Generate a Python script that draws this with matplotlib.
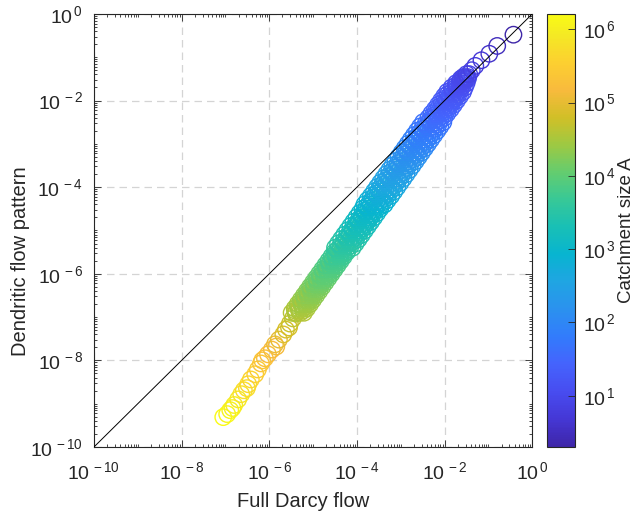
import numpy as np
import matplotlib
matplotlib.use("Agg")
import matplotlib.pyplot as plt
from matplotlib.colors import LinearSegmentedColormap, LogNorm
from matplotlib.cm import ScalarMappable
from matplotlib.ticker import FixedLocator, LogLocator, NullFormatter

# ---- data (log10 values) ----
# small catchments, separate circles close to the 1:1 line
top_darcy_exp = [-0.43, -0.80, -0.98, -1.16, -1.30, -1.38, -1.44, -1.50, -1.47, -1.53, -1.58]
top_dendritic_exp = [-0.48, -0.74, -0.92, -1.07, -1.20, -1.30, -1.39, -1.39, -1.46, -1.46, -1.46]
top_area_exp = [0.30, 0.48, 0.60, 0.70, 0.78, 0.85, 0.90, 0.90, 0.95, 0.95, 0.95]

# dense band: one dendritic value / catchment size per level, several darcy values
level_dendritic_exp = [-1.5, -1.6, -1.7, -1.8, -1.9, -2.0, -2.1, -2.2, -2.3, -2.4,
                       -2.5, -2.6, -2.7, -2.8, -2.9, -3.0, -3.1, -3.2, -3.3, -3.4,
                       -3.5, -3.6, -3.7, -3.8, -3.9, -4.0, -4.1, -4.2, -4.3, -4.4,
                       -4.5, -4.6, -4.7, -4.8, -4.9, -5.0, -5.1, -5.2, -5.3, -5.4,
                       -5.5, -5.6, -5.7, -5.8, -5.9, -6.0, -6.1, -6.2, -6.3, -6.4,
                       -6.5, -6.6, -6.7, -6.8, -6.9]
level_area_exp = [0.98, 1.05, 1.11, 1.18, 1.25, 1.31, 1.38, 1.45, 1.51, 1.58,
                  1.65, 1.71, 1.78, 1.85, 1.91, 1.98, 2.05, 2.11, 2.18, 2.25,
                  2.31, 2.38, 2.45, 2.51, 2.58, 2.65, 2.71, 2.78, 2.85, 2.91,
                  2.98, 3.05, 3.11, 3.18, 3.25, 3.31, 3.38, 3.45, 3.51, 3.58,
                  3.65, 3.71, 3.78, 3.85, 3.91, 3.98, 4.05, 4.11, 4.18, 4.25,
                  4.31, 4.38, 4.45, 4.51, 4.58]
level_darcy_exp = [
    [-1.63, -1.58, -1.52, -1.47], [-1.74, -1.66, -1.58, -1.50], [-1.84, -1.74, -1.64, -1.54],
    [-1.94, -1.82, -1.70, -1.58], [-2.01, -1.89, -1.77, -1.65], [-2.08, -1.96, -1.84, -1.72],
    [-2.15, -2.03, -1.91, -1.79], [-2.22, -2.10, -1.98, -1.86], [-2.30, -2.18, -2.06, -1.94],
    [-2.37, -2.25, -2.13, -2.01], [-2.49, -2.34, -2.18, -2.03], [-2.56, -2.41, -2.25, -2.10],
    [-2.63, -2.48, -2.32, -2.17], [-2.70, -2.55, -2.39, -2.24], [-2.77, -2.62, -2.46, -2.31],
    [-2.84, -2.69, -2.53, -2.38], [-2.91, -2.76, -2.60, -2.45], [-2.98, -2.83, -2.67, -2.52],
    [-3.05, -2.90, -2.74, -2.59], [-3.12, -2.97, -2.81, -2.66], [-3.19, -3.04, -2.88, -2.73],
    [-3.26, -3.11, -2.95, -2.80], [-3.33, -3.18, -3.02, -2.87], [-3.40, -3.25, -3.09, -2.94],
    [-3.47, -3.32, -3.16, -3.01], [-3.54, -3.39, -3.23, -3.08], [-3.61, -3.46, -3.30, -3.15],
    [-3.68, -3.53, -3.37, -3.22], [-3.76, -3.61, -3.45, -3.30], [-3.83, -3.68, -3.52, -3.37],
    [-3.87, -3.74, -3.60, -3.47], [-3.94, -3.81, -3.67, -3.54], [-4.01, -3.88, -3.74, -3.61],
    [-4.08, -3.95, -3.81, -3.68], [-4.15, -4.02, -3.88, -3.75], [-4.22, -4.09, -3.95, -3.82],
    [-4.29, -4.16, -4.02, -3.89], [-4.36, -4.23, -4.09, -3.96], [-4.43, -4.30, -4.16, -4.03],
    [-4.50, -4.37, -4.23, -4.10], [-4.51, -4.42, -4.32, -4.23], [-4.58, -4.49, -4.39, -4.30],
    [-4.65, -4.56, -4.46, -4.37], [-4.72, -4.63, -4.53, -4.44], [-4.79, -4.70, -4.60, -4.51],
    [-4.86, -4.77, -4.67, -4.58], [-4.93, -4.84, -4.74, -4.65], [-5.00, -4.91, -4.81, -4.72],
    [-5.07, -4.98, -4.88, -4.79], [-5.14, -5.05, -4.95, -4.86], [-5.21, -5.12, -5.02, -4.93],
    [-5.28, -5.19, -5.09, -5.00], [-5.35, -5.26, -5.16, -5.07], [-5.42, -5.33, -5.23, -5.14],
    [-5.49, -5.40, -5.30, -5.21],
]

# same band, levels in between
mid_dendritic_exp = [-1.55, -1.65, -1.75, -1.85, -1.95, -2.05, -2.15, -2.25, -2.35, -2.45,
                     -2.55, -2.65, -2.75, -2.85, -2.95, -3.05, -3.15, -3.25, -3.35, -3.45,
                     -3.55, -3.65, -3.75, -3.85, -3.95, -4.05, -4.15, -4.25, -4.35, -4.45,
                     -4.55, -4.65, -4.75, -4.85, -4.95, -5.05, -5.15, -5.25, -5.35, -5.45,
                     -5.55, -5.65, -5.75, -5.85, -5.95, -6.05, -6.15, -6.25, -6.35, -6.45,
                     -6.55, -6.65, -6.75, -6.85]
mid_area_exp = [1.01, 1.08, 1.15, 1.21, 1.28, 1.35, 1.41, 1.48, 1.55, 1.61,
                1.68, 1.75, 1.81, 1.88, 1.95, 2.01, 2.08, 2.15, 2.21, 2.28,
                2.35, 2.41, 2.48, 2.55, 2.61, 2.68, 2.75, 2.81, 2.88, 2.95,
                3.01, 3.08, 3.15, 3.21, 3.28, 3.35, 3.41, 3.48, 3.55, 3.61,
                3.68, 3.75, 3.81, 3.88, 3.95, 4.01, 4.08, 4.15, 4.21, 4.28,
                4.35, 4.41, 4.48, 4.55]
mid_darcy_exp = [
    [-1.64, -1.59, -1.54], [-1.74, -1.66, -1.58], [-1.83, -1.73, -1.63], [-1.92, -1.80, -1.68],
    [-1.99, -1.87, -1.75], [-2.06, -1.94, -1.82], [-2.13, -2.01, -1.89], [-2.20, -2.08, -1.96],
    [-2.27, -2.15, -2.03], [-2.34, -2.22, -2.10], [-2.44, -2.29, -2.14], [-2.51, -2.36, -2.21],
    [-2.58, -2.43, -2.28], [-2.65, -2.50, -2.35], [-2.72, -2.57, -2.42], [-2.79, -2.64, -2.49],
    [-2.86, -2.71, -2.56], [-2.93, -2.78, -2.63], [-3.00, -2.85, -2.70], [-3.07, -2.92, -2.77],
    [-3.15, -3.00, -2.85], [-3.22, -3.07, -2.92], [-3.29, -3.14, -2.99], [-3.36, -3.21, -3.06],
    [-3.43, -3.28, -3.13], [-3.50, -3.35, -3.20], [-3.57, -3.42, -3.27], [-3.64, -3.49, -3.34],
    [-3.71, -3.56, -3.41], [-3.78, -3.63, -3.48], [-3.82, -3.70, -3.58], [-3.89, -3.77, -3.65],
    [-3.96, -3.84, -3.72], [-4.03, -3.91, -3.79], [-4.10, -3.98, -3.86], [-4.17, -4.05, -3.93],
    [-4.24, -4.12, -4.00], [-4.31, -4.19, -4.07], [-4.38, -4.26, -4.14], [-4.45, -4.33, -4.21],
    [-4.49, -4.40, -4.31], [-4.56, -4.47, -4.38], [-4.63, -4.54, -4.45], [-4.70, -4.61, -4.52],
    [-4.77, -4.68, -4.59], [-4.84, -4.75, -4.66], [-4.92, -4.83, -4.74], [-4.99, -4.90, -4.81],
    [-5.06, -4.97, -4.88], [-5.13, -5.04, -4.95], [-5.20, -5.11, -5.02], [-5.27, -5.18, -5.09],
    [-5.34, -5.25, -5.16], [-5.41, -5.32, -5.23],
]

# large catchments, chain of circles at the lower end
chain_darcy_exp = [-5.39, -5.46, -5.53, -5.62, -5.68, -5.78, -5.87, -5.94, -6.03, -6.10, -6.19,
                   -6.26, -6.32, -6.42, -6.48, -6.58, -6.64, -6.71, -6.80, -6.89, -6.96, -7.05,
                   -5.55, -5.84, -6.16, -6.51, -6.84]
chain_dendritic_exp = [-6.92, -7.03, -7.15, -7.29, -7.40, -7.52, -7.63, -7.75, -7.86, -7.95, -8.07,
                       -8.21, -8.32, -8.44, -8.55, -8.69, -8.78, -8.90, -9.03, -9.15, -9.24, -9.31,
                       -7.24, -7.68, -8.00, -8.64, -9.10]
chain_area_exp = [4.59, 4.67, 4.75, 4.84, 4.91, 4.99, 5.07, 5.15, 5.22, 5.28, 5.36,
                  5.45, 5.53, 5.61, 5.68, 5.77, 5.83, 5.91, 6.00, 6.08, 6.14, 6.21,
                  4.81, 5.13, 5.35, 5.74, 6.05]

# ---- parula-like colormap ----
parula_pts = [
    (0.2422, 0.1504, 0.6603), (0.2706, 0.2147, 0.8364), (0.2813, 0.3006, 0.9414),
    (0.2699, 0.3892, 0.9906), (0.1963, 0.4847, 0.9892), (0.1687, 0.5703, 0.9359),
    (0.1248, 0.6459, 0.8883), (0.0297, 0.7082, 0.8163), (0.0964, 0.7500, 0.7120),
    (0.2161, 0.7843, 0.5923), (0.3909, 0.8029, 0.4354), (0.6174, 0.7876, 0.2612),
    (0.8203, 0.7498, 0.1535), (0.9728, 0.7298, 0.2394), (0.9892, 0.8136, 0.1885),
    (0.9597, 0.9135, 0.1423), (0.9769, 0.9839, 0.0805),
]
idx = [0, 4, 8, 12, 16, 20, 24, 28, 32, 36, 40, 44, 48, 52, 56, 60, 63]
parula = LinearSegmentedColormap.from_list(
    "parula", [(i / 63, c) for i, c in zip(idx, parula_pts)])

# ---- assemble points ----
dx, dy, da = [], [], []
for levels, areas, rows in ((level_dendritic_exp, level_area_exp, level_darcy_exp),
                            (mid_dendritic_exp, mid_area_exp, mid_darcy_exp)):
    for ly, la, row in zip(levels, areas, rows):
        for lx in row:
            dx.append(lx); dy.append(ly); da.append(la)
dx += chain_darcy_exp + top_darcy_exp
dy += chain_dendritic_exp + top_dendritic_exp
da += chain_area_exp + top_area_exp
darcy = 10 ** np.array(dx)
dendritic = 10 ** np.array(dy)
area = 10 ** np.array(da)
order = np.argsort(-area)

plt.rcParams["font.family"] = "Liberation Sans"
plt.rcParams["mathtext.fontset"] = "custom"
plt.rcParams["mathtext.rm"] = "Liberation Sans"
plt.rcParams["mathtext.it"] = "Liberation Sans:italic"
plt.rcParams["mathtext.bf"] = "Liberation Sans:bold"
txt = "#262626"

fig = plt.figure(figsize=(6.39, 5.15), dpi=100)
ax = fig.add_axes([0.147, 0.132, 0.686, 0.841])
cax = fig.add_axes([0.856, 0.132, 0.044, 0.841])

norm = LogNorm(vmin=area.min(), vmax=area.max())
ax.scatter(darcy[order], dendritic[order], s=140, facecolors="none",
           edgecolors=parula(norm(area[order])), linewidths=1.0, zorder=2)

lims = [1e-10, 1]
ax.plot(lims, lims, color="k", lw=0.7, zorder=3)

ax.set_xscale("log")
ax.set_yscale("log")
ax.set_xlim(lims)
ax.set_ylim(lims)


def exp_label(k):
    return r"$\mathregular{10^{\,%d}}$" % k


major = [10.0 ** k for k in range(-10, 1, 2)]
labels = [exp_label(k) for k in range(-10, 1, 2)]
for axis in (ax.xaxis, ax.yaxis):
    axis.set_major_locator(FixedLocator(major))
    axis.set_ticklabels(labels)
    axis.set_minor_locator(LogLocator(base=10, subs=np.arange(1, 10), numticks=100))
    axis.set_minor_formatter(NullFormatter())

ax.tick_params(which="both", direction="in", top=True, right=True, colors=txt,
               labelsize=14, width=0.6)
ax.tick_params(which="major", length=5)
ax.tick_params(which="minor", length=2.5)
ax.tick_params(axis="x", pad=10)
ax.tick_params(axis="y", pad=8)
for sp in ax.spines.values():
    sp.set_color(txt)
    sp.set_linewidth(0.8)

ax.grid(True, which="major", linestyle=(0, (6, 4)), color="#d4d4d4", linewidth=0.9, zorder=0)
ax.set_axisbelow(True)

ax.set_xlabel("Full Darcy flow", fontsize=14.5, color=txt)
ax.xaxis.set_label_coords(0.478, -0.105)
ax.set_ylabel("Dendritic flow pattern", fontsize=14.5, color=txt)
ax.yaxis.set_label_coords(-0.146, 0.43)

sm = ScalarMappable(norm=norm, cmap=parula)
cb = fig.colorbar(sm, cax=cax)
cb.set_ticks([10.0 ** k for k in range(1, 7)])
cb.set_ticklabels([exp_label(k) for k in range(1, 7)])
cb.ax.minorticks_off()
cb.ax.tick_params(direction="in", length=5, width=0.6, colors=txt, labelsize=14, pad=6)
cb.outline.set_edgecolor(txt)
cb.outline.set_linewidth(0.8)
cb.set_label("Catchment size A", fontsize=13.5, color=txt, labelpad=1)

fig.savefig("out.png", dpi=100)
